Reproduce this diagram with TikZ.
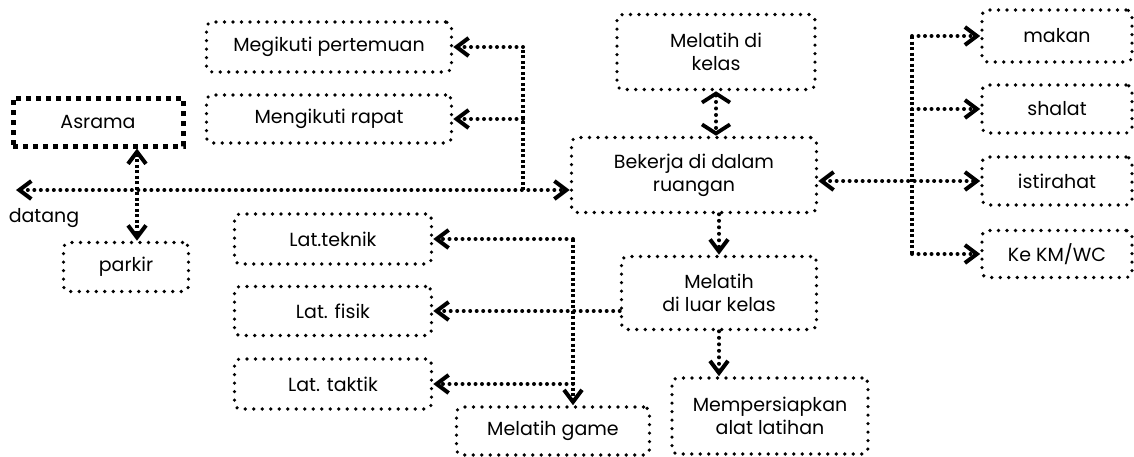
\documentclass[tikz,border=0pt]{standalone}
\usepackage{fontspec}
\setmainfont{Poppins}
\usetikzlibrary{arrows.meta}
\tikzset{
  lbl/.style={font=\fontsize{19}{23}\selectfont},
  box/.style={draw, line width=3.6pt, dash pattern=on 0pt off 8.5pt, line cap=round,
    rounded corners=6pt, align=center, lbl, inner sep=0pt},
  thickbox/.style={draw, line width=5pt, dash pattern=on 5pt off 5pt,
    align=center, lbl, inner sep=0pt},
  conn/.style={line width=4pt, dash pattern=on 0pt off 6.5pt, line cap=round},
  spine/.style={line width=4.2pt, dash pattern=on 3pt off 2.5pt},
  arr/.tip={Straight Barb[length=12pt,width=18pt,line width=4pt]},
  carr/.tip={Straight Barb[length=9pt,width=28pt,line width=3.8pt]},
}
\begin{document}
\begin{tikzpicture}[x=1pt,y=-1pt]
\useasboundingbox (0,0) rectangle (1134,456);

% boxes
\node[box, minimum width=245pt, minimum height=50pt] (pert) at (329,47) {Megikuti pertemuan};
\node[box, minimum width=245pt, minimum height=48pt] (rapat) at (329,119) {Mengikuti rapat};
\node[thickbox, minimum width=170pt, minimum height=48pt] (asrama) at (98,122) {Asrama};
\node[box, minimum width=125pt, minimum height=49pt] (parkir) at (126,267) {parkir};
\node[lbl] (datang) at (44,218) {datang};
\node[box, minimum width=198pt, minimum height=75pt] (kelas) at (716,52) {Melatih di\\kelas};
\node[box, minimum width=245pt, minimum height=75pt] (bek) at (694,175) {Bekerja di dalam\\ruangan};
\node[box, minimum width=195pt, minimum height=73pt] (luar) at (719,293) {Melatih\\di luar kelas};
\node[box, minimum width=196pt, minimum height=76pt] (siap) at (770,416) {Mempersiapkan\\alat latihan};
\node[box, minimum width=193pt, minimum height=48pt] (game) at (553,431) {Melatih game};
\node[box, minimum width=197pt, minimum height=50pt] (teknik) at (333,239) {Lat.teknik};
\node[box, minimum width=197pt, minimum height=49pt] (fisik) at (333,311) {Lat. fisik};
\node[box, minimum width=197pt, minimum height=50pt] (taktik) at (333,384) {Lat. taktik};
\node[box, minimum width=150pt, minimum height=52pt] (makan) at (1057,36) {makan};
\node[box, minimum width=150pt, minimum height=48pt] (shalat) at (1057,109) {shalat};
\node[box, minimum width=150pt, minimum height=48pt] (istirahat) at (1057,181) {istirahat};
\node[box, minimum width=150pt, minimum height=47pt] (km) at (1057,254) {Ke KM/WC};

% junction points
\coordinate (dtip) at (16,190);
\coordinate (j1) at (523,190);
\coordinate (ap) at (137,0);
\coordinate (j2) at (573,0);
\coordinate (sp) at (912,0);

% arrival / departure line
\draw[conn, arr-arr] (dtip) -- (dtip -| bek.west);
\draw[spine] (j1) -- (j1 |- pert.east);
\draw[conn, -arr] (j1 |- pert.east) -- (pert.east);
\draw[conn, -arr] (j1 |- rapat.east) -- (rapat.east);
\draw[spine, arr-arr] (asrama.south -| ap) -- (parkir.north -| ap);

% centre column
\draw[conn, carr-carr] (kelas.south) -- (bek.north -| kelas.south);
\draw[conn, -arr] (bek.south -| luar.north) -- (luar.north);
\draw[conn, -arr] (luar.south) -- (siap.north -| luar.south);

% training branches
\draw[conn, -arr] (luar.west |- fisik.east) -- (fisik.east);
\draw[spine, -arr] (teknik.east -| j2) -- (game.north -| j2);
\draw[conn, -arr] (teknik.east -| j2) -- (teknik.east);
\draw[conn, -arr] (taktik.east -| j2) -- (taktik.east);

% daily activities
\draw[spine] (makan.west -| sp) -- (km.west -| sp);
\draw[conn, arr-arr] (bek.east |- istirahat.west) -- (istirahat.west);
\draw[conn, -arr] (makan.west -| sp) -- (makan.west);
\draw[conn, -arr] (shalat.west -| sp) -- (shalat.west);
\draw[conn, -arr] (km.west -| sp) -- (km.west);
\end{tikzpicture}
\end{document}
